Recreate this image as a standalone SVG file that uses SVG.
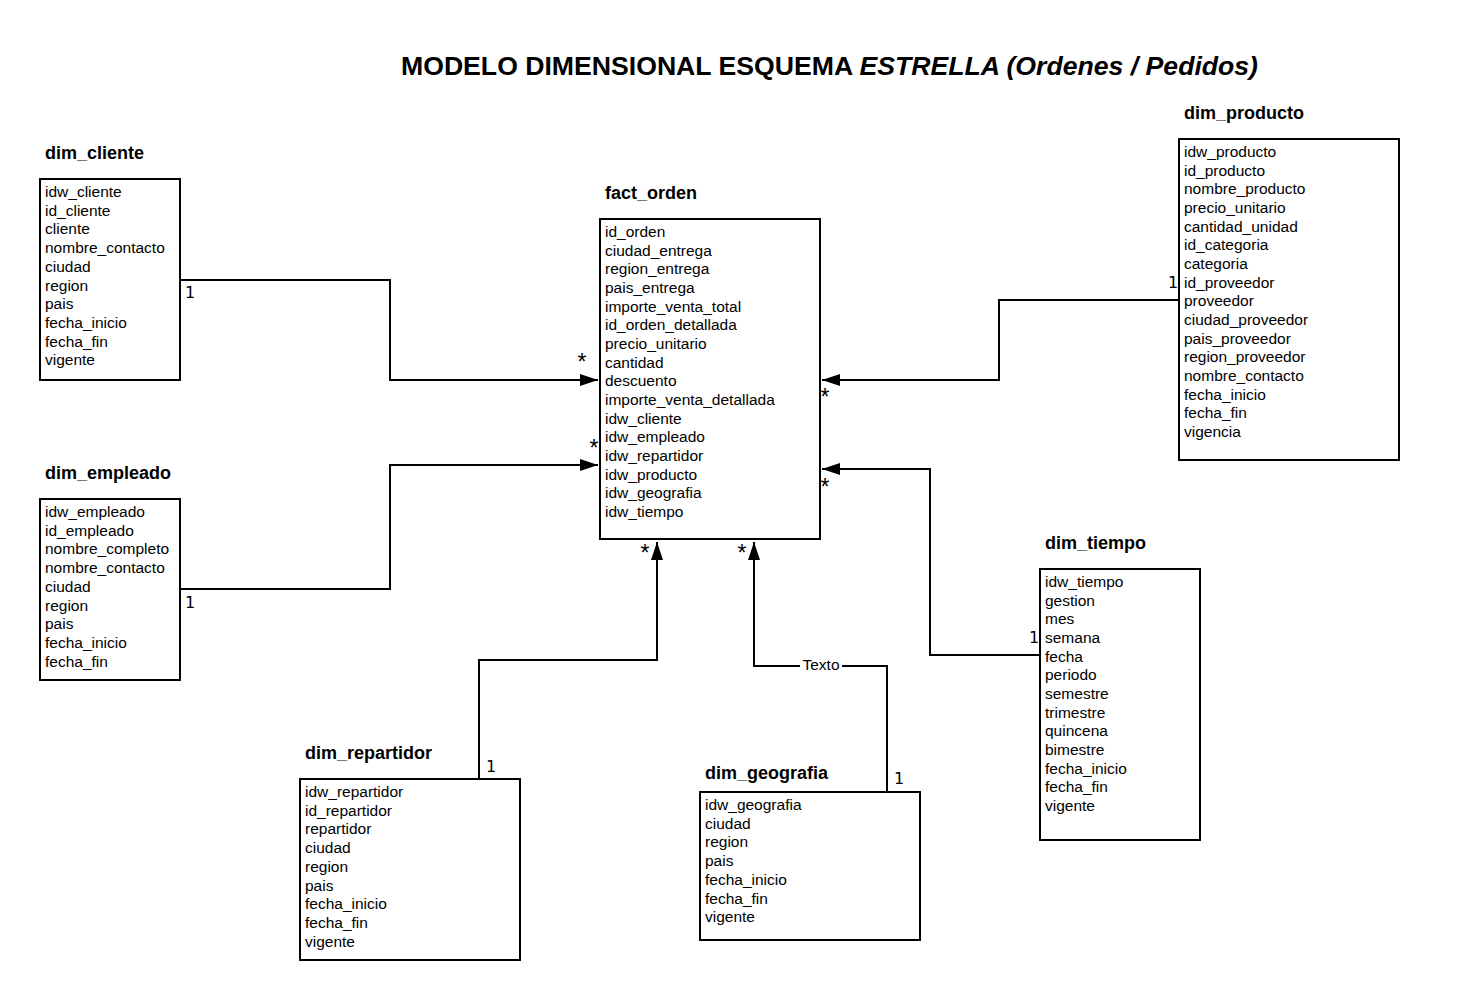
<svg xmlns="http://www.w3.org/2000/svg" width="1480" height="1000" viewBox="0 0 1480 1000">
<style>
.box{fill:#fff;stroke:#000;stroke-width:2}
.ttl{font-family:"Liberation Sans",Arial,sans-serif;font-weight:bold;font-size:18px;fill:#000}
.row{font-family:"Liberation Sans",Arial,sans-serif;font-size:15.5px;fill:#000}
.con{fill:none;stroke:#000;stroke-width:2}
.mul{font-family:"Liberation Sans",Arial,sans-serif;font-size:23px;fill:#000}
.one{font-family:"DejaVu Sans",sans-serif;font-size:16px;fill:#000}
</style>
<defs>
<marker id="arr" markerUnits="userSpaceOnUse" markerWidth="20" markerHeight="14" refX="18" refY="6" orient="auto">
<path d="M0,0 L18,6 L0,12 z" fill="#000"/>
</marker>
</defs>
<rect width="1480" height="1000" fill="#fff"/>
<text x="401" y="75" font-family="'Liberation Sans',Arial,sans-serif" font-weight="bold" font-size="26" textLength="857" lengthAdjust="spacingAndGlyphs">MODELO DIMENSIONAL ESQUEMA <tspan font-style="italic">ESTRELLA (Ordenes / Pedidos)</tspan></text>

<g id="connectors">
<polyline class="con" points="180,280 390,280 390,380 598,380" marker-end="url(#arr)"/>
<polyline class="con" points="180,589 390,589 390,465 598,465" marker-end="url(#arr)"/>
<polyline class="con" points="1179,300 999,300 999,380 822,380" marker-end="url(#arr)"/>
<polyline class="con" points="1040,655 930,655 930,469 822,469" marker-end="url(#arr)"/>
<polyline class="con" points="479,779 479,660 657,660 657,542" marker-end="url(#arr)"/>
<polyline class="con" points="887,792 887,666 754,666 754,542" marker-end="url(#arr)"/>
<rect x="800" y="657" width="42" height="18" fill="#fff"/>
<text class="row" x="821" y="670" text-anchor="middle">Texto</text>
<text class="one" x="185" y="298">1</text>
<text class="one" x="185" y="608">1</text>
<text class="one" x="1168" y="288">1</text>
<text class="one" x="1029" y="643">1</text>
<text class="one" x="486" y="772">1</text>
<text class="one" x="894" y="784">1</text>
<text class="mul" x="582" y="370" text-anchor="middle">*</text>
<text class="mul" x="594" y="456" text-anchor="middle">*</text>
<text class="mul" x="825" y="405" text-anchor="middle">*</text>
<text class="mul" x="825" y="495" text-anchor="middle">*</text>
<text class="mul" x="645" y="561" text-anchor="middle">*</text>
<text class="mul" x="742" y="561" text-anchor="middle">*</text>
</g>

<g id="dim_cliente">
<text class="ttl" x="45" y="159">dim_cliente</text>
<rect class="box" x="40" y="179" width="140" height="201"/>
<text class="row"><tspan x="45" y="197">idw_cliente</tspan><tspan x="45" dy="18.7">id_cliente</tspan><tspan x="45" dy="18.7">cliente</tspan><tspan x="45" dy="18.7">nombre_contacto</tspan><tspan x="45" dy="18.7">ciudad</tspan><tspan x="45" dy="18.7">region</tspan><tspan x="45" dy="18.7">pais</tspan><tspan x="45" dy="18.7">fecha_inicio</tspan><tspan x="45" dy="18.7">fecha_fin</tspan><tspan x="45" dy="18.7">vigente</tspan></text>
</g>

<g id="fact_orden">
<text class="ttl" x="605" y="199">fact_orden</text>
<rect class="box" x="600" y="219" width="220" height="320"/>
<text class="row"><tspan x="605" y="237">id_orden</tspan><tspan x="605" dy="18.67">ciudad_entrega</tspan><tspan x="605" dy="18.67">region_entrega</tspan><tspan x="605" dy="18.67">pais_entrega</tspan><tspan x="605" dy="18.67">importe_venta_total</tspan><tspan x="605" dy="18.67">id_orden_detallada</tspan><tspan x="605" dy="18.67">precio_unitario</tspan><tspan x="605" dy="18.67">cantidad</tspan><tspan x="605" dy="18.67">descuento</tspan><tspan x="605" dy="18.67">importe_venta_detallada</tspan><tspan x="605" dy="18.67">idw_cliente</tspan><tspan x="605" dy="18.67">idw_empleado</tspan><tspan x="605" dy="18.67">idw_repartidor</tspan><tspan x="605" dy="18.67">idw_producto</tspan><tspan x="605" dy="18.67">idw_geografia</tspan><tspan x="605" dy="18.67">idw_tiempo</tspan></text>
</g>

<g id="dim_empleado">
<text class="ttl" x="45" y="479">dim_empleado</text>
<rect class="box" x="40" y="499" width="140" height="181"/>
<text class="row"><tspan x="45" y="517">idw_empleado</tspan><tspan x="45" dy="18.7">id_empleado</tspan><tspan x="45" dy="18.7">nombre_completo</tspan><tspan x="45" dy="18.7">nombre_contacto</tspan><tspan x="45" dy="18.7">ciudad</tspan><tspan x="45" dy="18.7">region</tspan><tspan x="45" dy="18.7">pais</tspan><tspan x="45" dy="18.7">fecha_inicio</tspan><tspan x="45" dy="18.7">fecha_fin</tspan></text>
</g>

<g id="dim_producto">
<text class="ttl" x="1184" y="119">dim_producto</text>
<rect class="box" x="1179" y="139" width="220" height="321"/>
<text class="row"><tspan x="1184" y="157">idw_producto</tspan><tspan x="1184" dy="18.67">id_producto</tspan><tspan x="1184" dy="18.67">nombre_producto</tspan><tspan x="1184" dy="18.67">precio_unitario</tspan><tspan x="1184" dy="18.67">cantidad_unidad</tspan><tspan x="1184" dy="18.67">id_categoria</tspan><tspan x="1184" dy="18.67">categoria</tspan><tspan x="1184" dy="18.67">id_proveedor</tspan><tspan x="1184" dy="18.67">proveedor</tspan><tspan x="1184" dy="18.67">ciudad_proveedor</tspan><tspan x="1184" dy="18.67">pais_proveedor</tspan><tspan x="1184" dy="18.67">region_proveedor</tspan><tspan x="1184" dy="18.67">nombre_contacto</tspan><tspan x="1184" dy="18.67">fecha_inicio</tspan><tspan x="1184" dy="18.67">fecha_fin</tspan><tspan x="1184" dy="18.67">vigencia</tspan></text>
</g>

<g id="dim_tiempo">
<text class="ttl" x="1045" y="549">dim_tiempo</text>
<rect class="box" x="1040" y="569" width="160" height="271"/>
<text class="row"><tspan x="1045" y="587">idw_tiempo</tspan><tspan x="1045" dy="18.67">gestion</tspan><tspan x="1045" dy="18.67">mes</tspan><tspan x="1045" dy="18.67">semana</tspan><tspan x="1045" dy="18.67">fecha</tspan><tspan x="1045" dy="18.67">periodo</tspan><tspan x="1045" dy="18.67">semestre</tspan><tspan x="1045" dy="18.67">trimestre</tspan><tspan x="1045" dy="18.67">quincena</tspan><tspan x="1045" dy="18.67">bimestre</tspan><tspan x="1045" dy="18.67">fecha_inicio</tspan><tspan x="1045" dy="18.67">fecha_fin</tspan><tspan x="1045" dy="18.67">vigente</tspan></text>
</g>

<g id="dim_repartidor">
<text class="ttl" x="305" y="759">dim_repartidor</text>
<rect class="box" x="300" y="779" width="220" height="181"/>
<text class="row"><tspan x="305" y="797">idw_repartidor</tspan><tspan x="305" dy="18.7">id_repartidor</tspan><tspan x="305" dy="18.7">repartidor</tspan><tspan x="305" dy="18.7">ciudad</tspan><tspan x="305" dy="18.7">region</tspan><tspan x="305" dy="18.7">pais</tspan><tspan x="305" dy="18.7">fecha_inicio</tspan><tspan x="305" dy="18.7">fecha_fin</tspan><tspan x="305" dy="18.7">vigente</tspan></text>
</g>

<g id="dim_geografia">
<text class="ttl" x="705" y="779">dim_geografia</text>
<rect class="box" x="700" y="792" width="220" height="148"/>
<text class="row"><tspan x="705" y="810">idw_geografia</tspan><tspan x="705" dy="18.7">ciudad</tspan><tspan x="705" dy="18.7">region</tspan><tspan x="705" dy="18.7">pais</tspan><tspan x="705" dy="18.7">fecha_inicio</tspan><tspan x="705" dy="18.7">fecha_fin</tspan><tspan x="705" dy="18.7">vigente</tspan></text>
</g>
</svg>
